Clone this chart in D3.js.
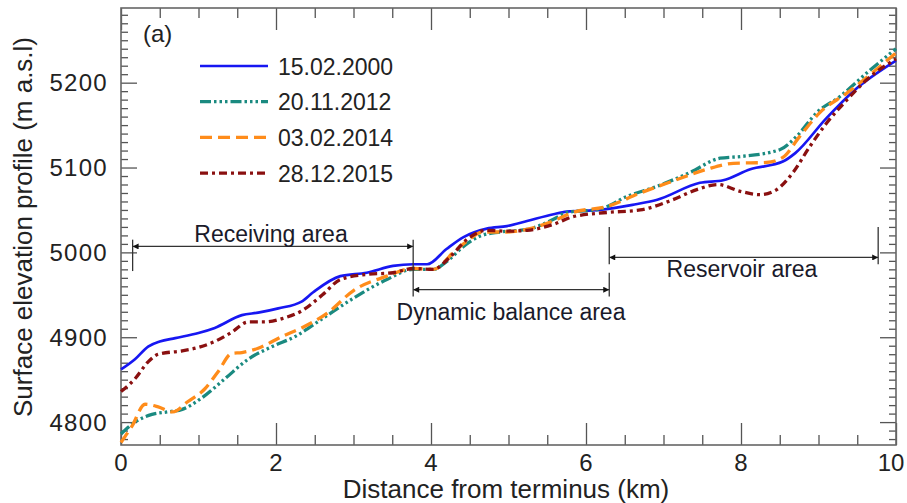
<!DOCTYPE html>
<html>
<head>
<meta charset="utf-8">
<script src="https://cdn.jsdelivr.net/npm/d3@7"></script>
<style>
  body { margin: 0; background: #fff; }
  svg { display: block; font-family: "Liberation Sans", Arial, sans-serif; }
  .tick line { stroke: #555; stroke-width: 1.3; }
</style>
</head>
<body>
<div id="root"></div>
<script>
// distance from terminus (km), surface elevation (m a.s.l.)
const profile2000 = [
  [0, 4862], [0.18, 4874], [0.35, 4889], [0.5, 4895], [0.7, 4899], [1.0, 4905],
  [1.21, 4911], [1.56, 4926], [1.77, 4929], [2.03, 4934], [2.33, 4942], [2.48, 4953],
  [2.83, 4972], [3.17, 4976], [3.51, 4984], [3.77, 4986], [3.95, 4986], [4.2, 5004],
  [4.42, 5018], [4.72, 5028], [4.98, 5031], [5.24, 5037], [5.58, 5045], [5.75, 5048],
  [6.18, 5050], [6.6, 5056], [6.92, 5062], [7.47, 5082], [7.77, 5085], [8.12, 5098],
  [8.54, 5107], [8.7, 5117], [9.1, 5158], [9.45, 5190], [10, 5226]
];
const profile2012 = [
  [0, 4786], [0.18, 4800], [0.4, 4809], [0.6, 4812], [0.79, 4815], [1.05, 4829],
  [1.34, 4851], [1.64, 4874], [1.95, 4889], [2.25, 4901], [2.6, 4922], [3.0, 4946],
  [3.43, 4968], [3.77, 4980], [4.03, 4980], [4.2, 4989], [4.42, 5007], [4.63, 5019],
  [4.89, 5024], [5.24, 5027], [5.58, 5039], [5.75, 5047], [6.18, 5051], [6.53, 5066],
  [6.92, 5078], [7.34, 5094], [7.73, 5111], [8.0, 5113], [8.5, 5121], [8.72, 5137],
  [8.98, 5165], [9.28, 5184], [9.63, 5212], [10, 5240]
];
const profile2014 = [
  [0, 4776], [0.14, 4795], [0.31, 4821], [0.48, 4818], [0.67, 4812], [0.86, 4824],
  [1.08, 4839], [1.25, 4859], [1.43, 4881], [1.56, 4882], [1.77, 4887], [2.08, 4901],
  [2.33, 4911], [2.67, 4929], [3.0, 4955], [3.43, 4972], [3.77, 4981], [4.03, 4980],
  [4.29, 5000], [4.46, 5013], [4.67, 5024], [4.98, 5024], [5.32, 5029], [5.63, 5039],
  [5.83, 5047], [6.27, 5054], [6.7, 5070], [7.12, 5084], [7.56, 5098], [7.9, 5105],
  [8.33, 5106], [8.54, 5112], [8.76, 5137], [9.02, 5165], [9.37, 5188], [9.7, 5212],
  [10, 5235]
];
const profile2015 = [
  [0, 4836], [0.18, 4851], [0.35, 4871], [0.48, 4880], [0.79, 4884], [1.0, 4888],
  [1.21, 4895], [1.43, 4906], [1.64, 4918], [1.86, 4918], [2.08, 4922], [2.33, 4931],
  [2.6, 4950], [2.83, 4968], [3.17, 4974], [3.51, 4976], [3.77, 4981], [4.03, 4980],
  [4.25, 4995], [4.46, 5015], [4.72, 5026], [4.98, 5025], [5.24, 5026], [5.58, 5033],
  [5.83, 5042], [6.27, 5047], [6.7, 5050], [7.12, 5062], [7.43, 5074], [7.7, 5080],
  [7.99, 5072], [8.25, 5068], [8.46, 5074], [8.67, 5094], [8.89, 5125], [9.11, 5153],
  [9.37, 5180], [9.63, 5204], [10, 5228]
];

const seriesNames = ["15.02.2000", "20.11.2012", "03.02.2014", "28.12.2015"];
const seriesData = [profile2000, profile2012, profile2014, profile2015];

// [from km, to km, arrow elevation, label]
const zones = [
  [0.15, 3.77, 5007, "Receiving area"],
  [3.77, 6.3, 4956, "Dynamic balance area"],
  [6.3, 9.77, 4994, "Reservoir area"]
];

const xMajor = [0, 2, 4, 6, 8, 10];
const yMajor = [4800, 4900, 5000, 5100, 5200];

const width = 907, height = 503;
const pLeft = 121, pRight = 896, pTop = 8, pBottom = 445;

const styles = [
  { color: "#1717f2", dash: null, w: 2.7 },
  { color: "#1a8a80", dash: "11,3,2.5,3,2.5,3,2.5,3", w: 3.3 },
  { color: "#ff8c1a", dash: "12,6", w: 3.3 },
  { color: "#8a1010", dash: "8,4,3,4", w: 3.3 }
];

const x = d3.scaleLinear().domain([0, 10]).range([pLeft, pRight]);
const y = d3.scaleLinear().domain([4773, 5288]).range([pBottom, pTop]);

const svg = d3.create("svg").attr("width", width).attr("height", height);

// axes, ticks pointing inward
const minorX = d3.range(0, 10.01, 0.5).filter(v => v % 2 !== 0);
const minorY = d3.range(4780, 5288, 10).filter(v => v % 100 !== 0);

const addAxis = (axis, tr) => {
  const g = svg.append("g").attr("transform", tr).call(axis);
  g.select(".domain").remove();
  g.selectAll("text").remove();
  return g;
};
addAxis(d3.axisBottom(x).tickValues(xMajor).tickSize(-22), `translate(0,${pBottom})`);
addAxis(d3.axisBottom(x).tickValues(minorX).tickSize(-10), `translate(0,${pBottom})`);
addAxis(d3.axisTop(x).tickValues(xMajor).tickSize(-22), `translate(0,${pTop})`);
addAxis(d3.axisTop(x).tickValues(minorX).tickSize(-10), `translate(0,${pTop})`);
addAxis(d3.axisLeft(y).tickValues(yMajor).tickSize(-16), `translate(${pLeft},0)`);
addAxis(d3.axisLeft(y).tickValues(minorY).tickSize(-7), `translate(${pLeft},0)`);
addAxis(d3.axisRight(y).tickValues(yMajor).tickSize(-16), `translate(${pRight},0)`);
addAxis(d3.axisRight(y).tickValues(minorY).tickSize(-7), `translate(${pRight},0)`);

svg.append("rect")
  .attr("x", pLeft).attr("y", pTop)
  .attr("width", pRight - pLeft).attr("height", pBottom - pTop)
  .attr("fill", "none").attr("stroke", "#666").attr("stroke-width", 1.6);

// tick labels (last one nudged in so it stays inside the page)
svg.append("g").selectAll("text").data(xMajor).join("text")
  .attr("x", d => Math.min(x(d), width - 16)).attr("y", 471)
  .attr("text-anchor", "middle").attr("font-size", 24).attr("fill", "#222")
  .text(d => d);
svg.append("g").selectAll("text").data(yMajor).join("text")
  .attr("x", 108).attr("y", d => y(d) + 8.5)
  .attr("text-anchor", "end").attr("font-size", 24).attr("letter-spacing", 1.3)
  .attr("fill", "#222")
  .text(d => d);

// axis titles
svg.append("text")
  .attr("x", 506).attr("y", 498).attr("text-anchor", "middle")
  .attr("font-size", 26).attr("fill", "#222")
  .text("Distance from terminus (km)");
svg.append("text")
  .attr("transform", "translate(32,227) rotate(-90)")
  .attr("text-anchor", "middle").attr("font-size", 26).attr("fill", "#222")
  .text("Surface elevation profile (m a.s.l)");

svg.append("text")
  .attr("x", 143).attr("y", 42).attr("font-size", 24).attr("fill", "#222")
  .text("(a)");

// profiles
const line = d3.line()
  .x(d => x(d[0])).y(d => y(d[1]))
  .curve(d3.curveMonotoneX);

const plot = svg.append("g");
seriesData.forEach((s, i) => {
  plot.append("path")
    .datum(s)
    .attr("fill", "none")
    .attr("stroke", styles[i].color)
    .attr("stroke-width", styles[i].w)
    .attr("stroke-dasharray", styles[i].dash)
    .attr("d", line);
});

// legend
const legend = svg.append("g").selectAll("g").data(seriesNames).join("g")
  .attr("transform", (d, i) => `translate(200,${66 + i * 35.7})`);
legend.append("line")
  .attr("x1", 0).attr("x2", 68)
  .attr("stroke", (d, i) => styles[i].color)
  .attr("stroke-width", (d, i) => styles[i].w)
  .attr("stroke-dasharray", (d, i) => styles[i].dash);
legend.append("text")
  .attr("x", 78).attr("y", 8.5)
  .attr("font-size", 23).attr("fill", "#222")
  .text(d => d);

// zone annotations
svg.append("defs").append("marker")
  .attr("id", "arr")
  .attr("viewBox", "0 0 10 10").attr("refX", 10).attr("refY", 5)
  .attr("markerWidth", 9).attr("markerHeight", 6)
  .attr("markerUnits", "userSpaceOnUse")
  .attr("orient", "auto-start-reverse")
  .append("path").attr("d", "M0,0L10,5L0,10z").attr("fill", "#111");

const ann = svg.append("g").attr("stroke", "#333").attr("stroke-width", 1.3);
zones.forEach(z => {
  ann.append("line")
    .attr("x1", x(z[0])).attr("x2", x(z[1]))
    .attr("y1", y(z[2])).attr("y2", y(z[2]))
    .attr("marker-start", "url(#arr)").attr("marker-end", "url(#arr)");
});
// boundary ticks
const bars = [
  [zones[0][0], 5015, 4978],
  [zones[0][1], 5015, 4948],
  [zones[1][1], 4976, 4948],
  [zones[2][0], 5030, 4986],
  [zones[2][1], 5030, 4986]
];
bars.forEach(b => {
  ann.append("line")
    .attr("x1", x(b[0])).attr("x2", x(b[0]))
    .attr("y1", y(b[1])).attr("y2", y(b[2]));
});

const labelPos = [[271, 242], [511, 320], [742, 277]];
zones.forEach((z, i) => {
  svg.append("text")
    .attr("x", labelPos[i][0]).attr("y", labelPos[i][1])
    .attr("text-anchor", "middle").attr("font-size", 23).attr("fill", "#1a1a2a")
    .text(z[3]);
});

d3.select("#root").append(() => svg.node());
</script>
</body>
</html>
